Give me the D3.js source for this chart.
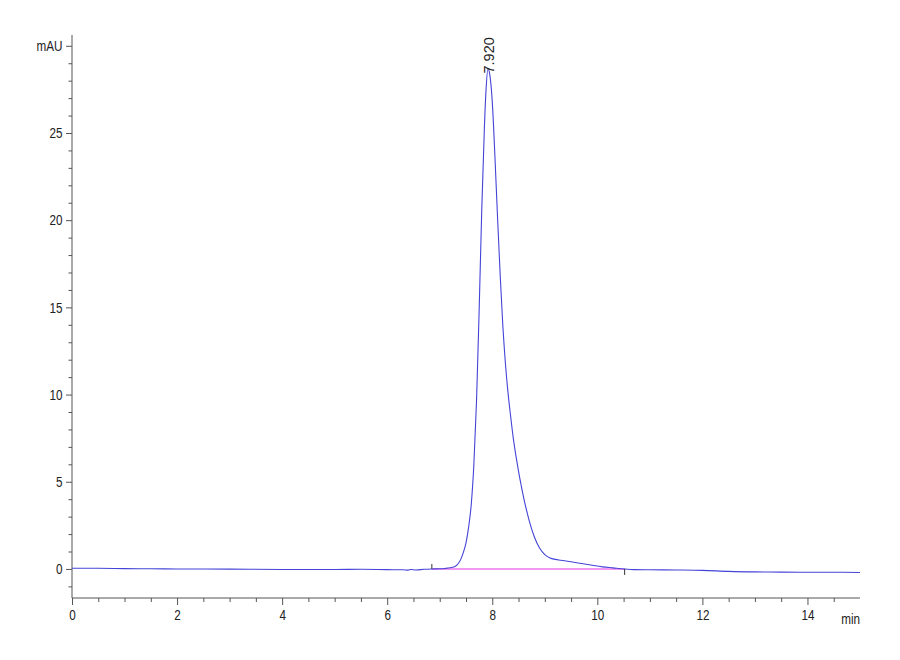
<!DOCTYPE html>
<html>
<head>
<meta charset="utf-8">
<script src="https://cdn.jsdelivr.net/npm/d3@7"></script>
<style>
  html, body { margin: 0; padding: 0; background: #fff; }
  svg { display: block; }
  text { font-family: "Liberation Sans", Arial, sans-serif; fill: #222; }
  .tick text { font-size: 15px; }
</style>
</head>
<body>
<svg id="chart" width="900" height="660"></svg>
<script>
// ---- data ----
const timeMin = [0, 0.5, 1, 1.5, 2, 3, 4, 5, 5.5, 6, 6.3, 6.4, 6.45, 6.55, 6.7, 6.85,
  7.0, 7.1, 7.2, 7.3, 7.35, 7.4, 7.45, 7.5, 7.55, 7.6, 7.65, 7.7, 7.75, 7.8, 7.85, 7.88, 7.92,
  7.95, 8.0, 8.05, 8.1, 8.15, 8.2, 8.25, 8.3, 8.35, 8.4, 8.45, 8.5, 8.55, 8.6, 8.65, 8.7, 8.8, 8.9, 9.0, 9.1,
  9.2, 9.3, 9.5, 9.7, 9.9, 10.1, 10.3, 10.5, 10.7, 11, 11.5, 12, 12.5, 13, 13.5, 14, 14.5, 15];
const absorbance = [0.04, 0.04, 0.02, 0.01, 0.0, -0.01, -0.03, -0.03, -0.02, -0.04, -0.05, -0.07, -0.03, -0.06, -0.02, 0.0,
  0.01, 0.03, 0.07, 0.16, 0.3, 0.55, 0.95, 1.5, 2.4, 3.7, 6.0, 9.6, 14.8, 20.6, 25.3, 27.4, 28.7,
  28.4, 26.8, 23.7, 20.2, 16.9, 14.0, 11.8, 10.1, 8.75, 7.5, 6.5, 5.6, 4.8, 4.05, 3.4, 2.8, 1.85, 1.2, 0.82, 0.63,
  0.55, 0.5, 0.41, 0.31, 0.21, 0.12, 0.06, 0.0, -0.04, -0.05, -0.06, -0.08, -0.14, -0.17, -0.18, -0.19, -0.19, -0.2];
const baselineTime = [6.85, 10.52];
const baselineValue = [0.0, 0.0];
const peakTime = [7.92];
const peakValue = [28.7];
const peakLabel = ["7.920"];
const xMajorTicks = [0, 2, 4, 6, 8, 10, 12, 14];
const yMajorTicks = [0, 5, 10, 15, 20, 25, 30];
const yUnit = "mAU";
const xUnit = "min";

// ---- chart ----
const svg = d3.select("#chart");
const x = d3.scaleLinear().domain([0, 15]).range([72, 860]);
const y = d3.scaleLinear().domain([-1.666, 30]).range([598, 45.8]);

const xMinor = d3.range(0, 15, 0.5).filter(v => !xMajorTicks.includes(v));
const yMinor = d3.range(-1, 31, 1).filter(v => !yMajorTicks.includes(v));

const axisColor = "#555";
const SX = 0.78; // horizontal condensing of label glyphs

function condense(sel) {
  sel.each(function () {
    const t = d3.select(this);
    const xv = +(t.attr("x") || 0);
    t.attr("x", xv / SX).attr("transform", `scale(${SX},1)`);
  });
}

// x axis
const gx = svg.append("g").attr("transform", "translate(0,598)");
gx.call(d3.axisBottom(x).tickValues(xMajorTicks).tickSize(7).tickPadding(4).tickFormat(d3.format("d")));
gx.append("g").call(d3.axisBottom(x).tickValues(xMinor).tickSize(4).tickFormat(""));
gx.selectAll(".domain").remove();
gx.selectAll("line").attr("stroke", axisColor);
gx.selectAll(".tick text").call(condense);
svg.append("line").attr("x1", x(0)).attr("x2", x(15)).attr("y1", 598).attr("y2", 598).attr("stroke", axisColor);
svg.append("text").attr("x", x(15) / SX).attr("y", 624)
  .attr("transform", `scale(${SX},1)`)
  .attr("text-anchor", "end")
  .style("font-size", "15px").text(xUnit);

// y axis
const gy = svg.append("g").attr("transform", "translate(72,0)");
gy.call(d3.axisLeft(y).tickValues(yMajorTicks).tickSize(6).tickPadding(3.5)
  .tickFormat(d => d === 30 ? yUnit : d3.format("d")(d)));
gy.append("g").call(d3.axisLeft(y).tickValues(yMinor).tickSize(3.5).tickFormat(""));
gy.selectAll(".domain").remove();
gy.selectAll("line").attr("stroke", axisColor);
gy.selectAll(".tick text").call(condense);
svg.append("line").attr("x1", 72).attr("x2", 72).attr("y1", 35).attr("y2", 598).attr("stroke", axisColor);

// baseline (integration)
svg.append("line")
  .attr("x1", x(baselineTime[0])).attr("y1", y(baselineValue[0]))
  .attr("x2", x(baselineTime[1])).attr("y2", y(baselineValue[1]))
  .attr("stroke", "#ee77ee").attr("stroke-width", 1.4);

// signal
const pts = timeMin.map((t, i) => [t, absorbance[i]]);
svg.append("path")
  .datum(pts)
  .attr("fill", "none")
  .attr("stroke", "#4444d8")
  .attr("stroke-width", 1.1)
  .attr("d", d3.line().x(d => x(d[0])).y(d => y(d[1])).curve(d3.curveMonotoneX));

// integration start/end markers
svg.append("line").attr("x1", x(baselineTime[0])).attr("x2", x(baselineTime[0]))
  .attr("y1", y(baselineValue[0])).attr("y2", y(baselineValue[0]) - 5).attr("stroke", "#333");
svg.append("line").attr("x1", x(baselineTime[1])).attr("x2", x(baselineTime[1]))
  .attr("y1", y(baselineValue[1])).attr("y2", y(baselineValue[1]) + 6).attr("stroke", "#333");

// peak label
peakTime.forEach((t, i) => {
  const px = x(t), py = y(peakValue[i]) + 5;
  svg.append("text")
    .attr("transform", `translate(${px + 5.5},${py}) rotate(-90)`)
    .style("font-size", "14.5px")
    .text(peakLabel[i]);
});
</script>
</body>
</html>
